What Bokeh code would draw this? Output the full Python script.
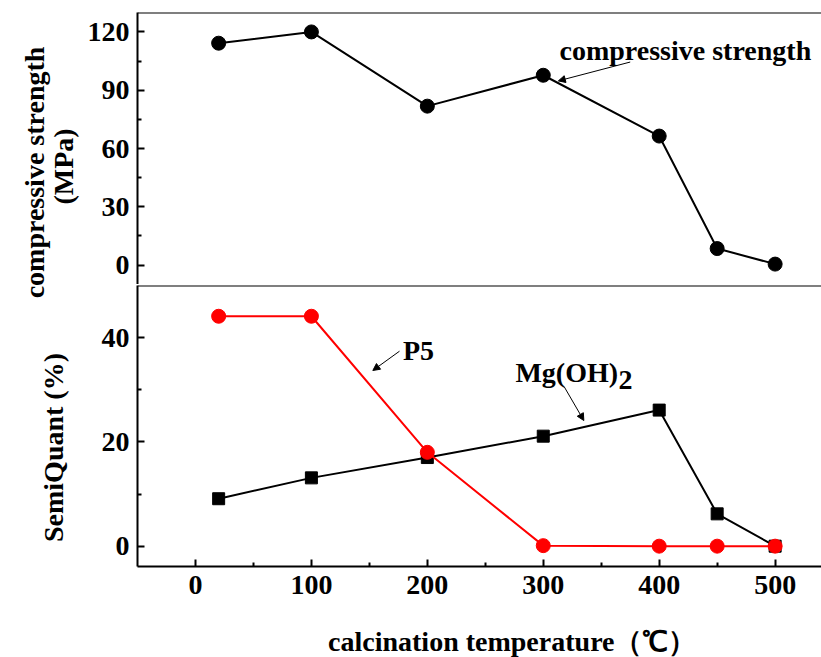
from bokeh.plotting import figure
from bokeh.layouts import column, row
from bokeh.models import Range1d, FixedTicker, Label, Arrow, NormalHead, Span
from bokeh.embed import file_html
from bokeh.resources import INLINE

temperature = [20, 100, 200, 300, 400, 450, 500]
strength = [114.2, 120.0, 81.8, 97.7, 66.4, 8.5, 0.5]
mgoh2 = [9.1, 13.1, 17.0, 21.1, 26.1, 6.2, 0.0]
p5 = [44.1, 44.1, 18.0, 0.1, 0.0, 0.0, 0.0]

x_major = [0, 100, 200, 300, 400, 500]
x_minor = [50, 150, 250, 350, 450]
top_major = [0, 30, 60, 90, 120]
top_minor = [15, 45, 75, 105]
bot_major = [0, 20, 40]
bot_minor = [10, 30]

FONT = "Liberation Serif"
TICK_SIZE = "28px"
LAB_SIZE = "28px"


def style_axis(ax, major, minor):
    ax.ticker = FixedTicker(ticks=major, minor_ticks=minor)
    ax.axis_line_width = 2
    ax.axis_line_color = "black"
    ax.major_tick_in = 7
    ax.major_tick_out = 0
    ax.minor_tick_in = 4
    ax.minor_tick_out = 0
    ax.major_tick_line_width = 2
    ax.minor_tick_line_width = 2
    ax.major_label_text_font = FONT
    ax.major_label_text_font_style = "bold"
    ax.major_label_text_font_size = TICK_SIZE
    ax.major_label_text_color = "black"


def lab(**kw):
    return Label(text_font=FONT, text_font_style="bold", text_font_size=LAB_SIZE,
                 text_color="black", **kw)


def blank(w, h, xr, yr):
    f = figure(width=w, height=h, output_backend="svg", toolbar_location=None,
               x_range=xr, y_range=yr, x_axis_location=None, y_axis_location=None,
               min_border_left=0, min_border_right=0, min_border_top=0, min_border_bottom=0)
    f.grid.visible = False
    f.outline_line_color = None
    return f


# ---------- left strip with y-axis titles (coordinates = page pixels) ----------
pl = blank(80, 657, Range1d(0, 80), Range1d(657, 0))
pl.add_layout(lab(x=34, y=172, angle=1.5708, text="compressive strength",
                  text_align="center", text_baseline="middle"))
pl.add_layout(lab(x=63, y=166, angle=1.5708, text="(MPa)",
                  text_align="center", text_baseline="middle"))
pl.add_layout(lab(x=53, y=447, angle=1.5708, text="SemiQuant (%)",
                  text_align="center", text_baseline="middle"))

# ---------- top panel ----------
p1 = figure(width=741, height=284, output_backend="svg", toolbar_location=None,
            x_range=Range1d(-50, 540), y_range=Range1d(-10, 130),
            min_border_left=57, min_border_right=0, min_border_top=12,
            min_border_bottom=0, x_axis_location=None)
p1.grid.visible = False
p1.outline_line_color = None
style_axis(p1.yaxis[0], top_major, top_minor)
p1.yaxis.major_label_standoff = 8
p1.add_layout(Span(location=130, dimension="width", line_color="black", line_width=2))

p1.line(temperature, strength, line_color="black", line_width=2)
p1.scatter(temperature, strength, marker="circle", size=14, fill_color="black", line_color="black")

p1.add_layout(lab(x=314, y=110.5, text="compressive strength", text_baseline="alphabetic"))
p1.add_layout(Arrow(x_start=375, y_start=104.5, x_end=313, y_end=94.8, line_width=1,
                    end=NormalHead(size=7, fill_color="black", line_width=1)))

# ---------- bottom panel ----------
p2 = figure(width=741, height=328, output_backend="svg", toolbar_location=None,
            x_range=Range1d(-50, 540), y_range=Range1d(-3.9, 50),
            min_border_left=57, min_border_right=0, min_border_top=1,
            min_border_bottom=46)
p2.grid.visible = False
p2.outline_line_color = None
style_axis(p2.yaxis[0], bot_major, bot_minor)
style_axis(p2.xaxis[0], x_major, x_minor)
p2.yaxis.major_label_standoff = 8
p2.xaxis.major_label_standoff = 9
p2.add_layout(Span(location=50, dimension="width", line_color="black", line_width=2))

p2.line(temperature, mgoh2, line_color="black", line_width=2)
p2.scatter(temperature, mgoh2, marker="square", size=12, fill_color="black", line_color="black")
p2.line(temperature, p5, line_color="red", line_width=2)
p2.scatter(temperature, p5, marker="circle", size=14, fill_color="red", line_color="red")

p2.add_layout(lab(x=179, y=37.5, text="P5", text_baseline="alphabetic"))
p2.add_layout(Arrow(x_start=176, y_start=37.4, x_end=153, y_end=33.7, line_width=1,
                    end=NormalHead(size=7, fill_color="black", line_width=1)))
p2.add_layout(lab(x=276, y=33.3, text="Mg(OH)", text_baseline="alphabetic"))
p2.add_layout(lab(x=365, y=31.8, text="2", text_baseline="alphabetic"))
p2.add_layout(Arrow(x_start=318, y_start=30.6, x_end=335, y_end=24.1, line_width=1,
                    end=NormalHead(size=7, fill_color="black", line_width=1)))

# ---------- bottom strip with x-axis title (coordinates = page pixels) ----------
pb = blank(741, 45, Range1d(80, 821), Range1d(657, 612))
pb.add_layout(lab(x=486, y=641, text="calcination temperature（℃）",
                  text_align="center", text_baseline="middle"))

layout = row(pl, column(p1, p2, pb, spacing=0), spacing=0)
open("out.html", "w").write(file_html(layout, INLINE))
